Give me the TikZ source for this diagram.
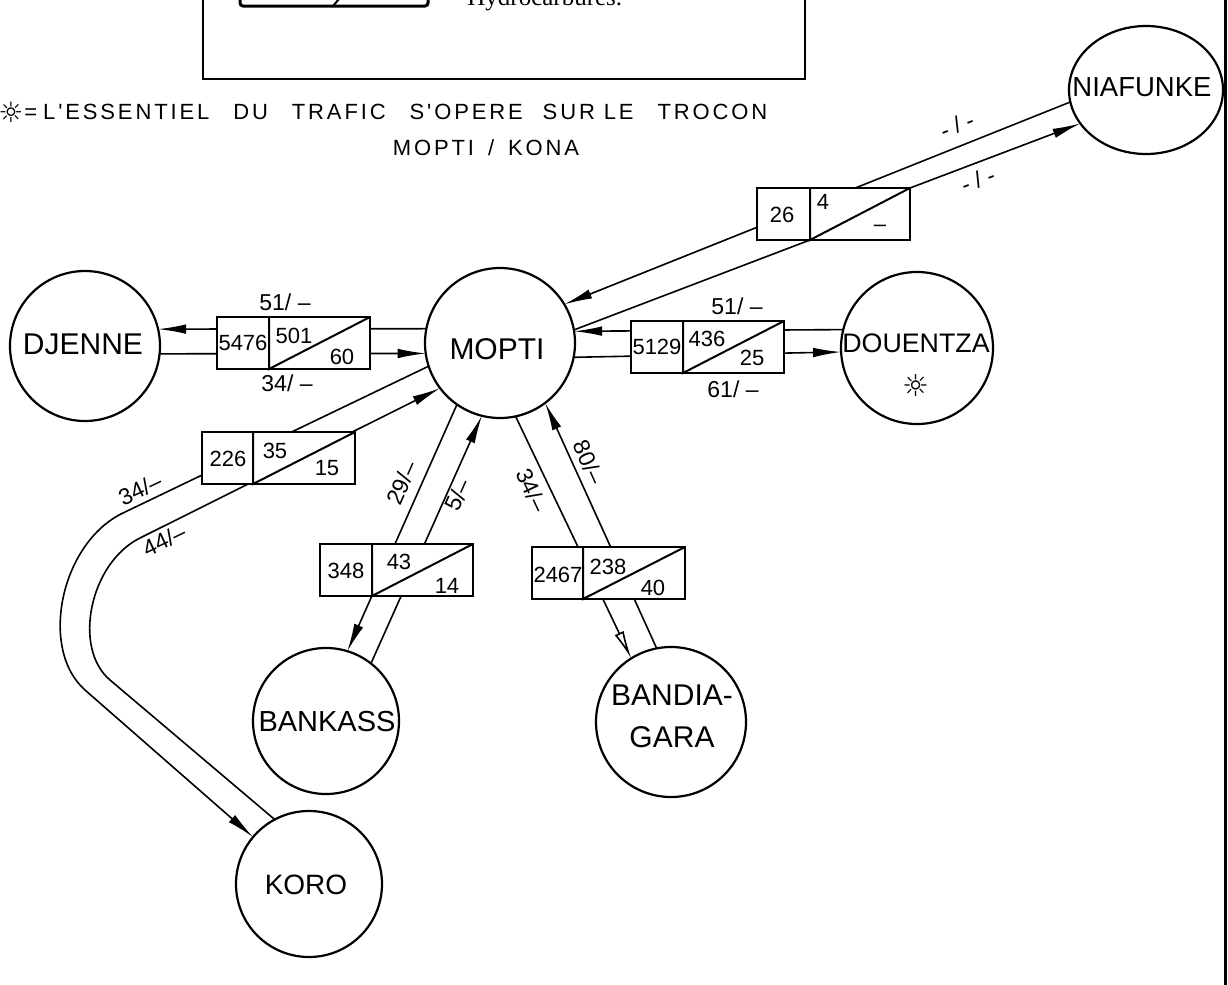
\documentclass[tikz,border=0pt]{standalone}
\usepackage{fontspec}
\setmainfont{Liberation Sans}
\newfontfamily\spacedfont[LetterSpace=13]{Liberation Sans}
\newfontfamily\symfont{DejaVu Sans}
\newfontfamily\seriffont{Liberation Serif}
\usetikzlibrary{arrows.meta,shapes.geometric,calc}
\newcommand\fsz[1]{\fontsize{#1}{#1}\selectfont}
\begin{document}
\begin{tikzpicture}[x=0.5pt,y=-0.5pt,
  town/.style={circle,draw,line width=1.1pt,minimum size=#1,inner sep=0pt,outer sep=0pt},
  tlab/.style={inner sep=0pt,font=\fsz{15}},
  conn/.style={line width=0.8pt},
  arr/.style={-{Latex[length=14pt,width=4.8pt]}},
  openarr/.style={-{Latex[open,length=14pt,width=5pt]}},
  tbox/.style={rectangle,draw,fill=white,line width=1pt,minimum width=76.5pt,minimum height=26pt,inner sep=0pt,outer sep=0pt,anchor=north west},
  boxline/.style={line width=1pt},
  num/.style={inner sep=0pt,font=\fsz{11}},
  elab/.style={inner sep=0pt,font=\fsz{11.5}},
  frame/.style={line width=1pt}]
\useasboundingbox (0,0) rectangle (1228,985);

% legend frame (cut at top)
\draw[frame] (203,-20) -- (203,79) -- (805,79) -- (805,-20);
\draw[line width=1.5pt,rounded corners=1.5pt] (240,-20) -- (240,6) -- (428,6) -- (428,-20);
\draw[line width=1pt] (333,6) -- (339,-1);
\node[anchor=base west,inner sep=0pt,font=\seriffont\fsz{12.5}] (hyd) at (467,5) {Hydrocarbures.};

% right border
\draw[line width=1.5pt] (1225,-5) -- (1225,990);

% note
\node[inner sep=0pt,font=\symfont\fsz{14}] (star1) at (11,112) {☼};
\node[anchor=west,inner sep=0pt,font=\spacedfont\fsz{11}] (note1) at (24,112) {=\hspace{3pt}L'ESSENTIEL\hspace{12pt}DU\hspace{12pt}TRAFIC\hspace{12pt}S'OPERE\hspace{10pt}SUR\hspace{4.5pt}LE\hspace{12pt}TROCON};
\node[inner sep=0pt,font=\spacedfont\fsz{11}] (note2) at (486,148) {MOPTI\hspace{7pt}/\hspace{7pt}KONA};

% towns
\node[town=75pt] (mopti) at (500,343) {};
\node[town=75pt] (djenne) at (85,346) {};
\node[town=76pt] (douentza) at (917,348) {};
\node[ellipse,draw,line width=1.1pt,minimum width=77pt,minimum height=64pt,inner sep=0pt,outer sep=0pt] (niafunke) at (1146,90) {};
\node[town=73pt] (bankass) at (326,721) {};
\node[town=75pt] (bandiagara) at (671,722) {};
\node[town=73pt] (koro) at (309,884) {};

\node[tlab] (moptil) at (497,349) {MOPTI};
\node[tlab] (djennel) at (83,344) {DJENNE};
\node[tlab,font=\fsz{13.4}] (douentzal) at (916,343) {DOUENTZA};
\node[inner sep=0pt,font=\symfont\fsz{15}] (star2) at (916,386) {☼};
\node[tlab,font=\fsz{13.75}] (niafunkel) at (1142,87) {NIAFUNKE};
\node[tlab,font=\fsz{14.5}] (bankassl) at (327,722) {BANKASS};
\node[inner sep=0pt,align=center,font=\fontsize{15}{21}\selectfont] (bandiagaral) at (672,716) {BANDIA-\\GARA};
\node[tlab,font=\fsz{14}] (korol) at (306,885) {KORO};

% connectors
\draw[conn,arr] (niafunke.189.5) -- (mopti.31.6);
\draw[conn,arr] (mopti.169.24) -- (djenne.13.1);
\draw[conn,arr] (djenne.-6.12) -- (mopti.188.43);
\draw[conn,arr] (douentza.166.3) -- (mopti.9.98);
\draw[conn,arr] (mopti.349.24) -- (douentza.183.0);
\coordinate (ko1) at (123,513);
\coordinate (ko2) at (85,690);
\draw[conn,arr] (mopti.198.8) -- (ko1) .. controls (60.8,542.7) and (38.5,648.9) .. (ko2) -- (koro.140);
\coordinate (ki1) at (140,538);
\coordinate (ki2) at (110,680);
\draw[conn,arr] (koro.118) -- (ki2) .. controls (72.1,647.9) and (90.1,562.7) .. (ki1) -- (mopti.217.8);
\draw[conn,arr] (mopti.235.3) -- (bankass.73.4);
\draw[conn,arr] (bankass.52.4) -- (mopti.256);
\draw[conn,openarr] (mopti.282.8) -- (bandiagara.122.4);
\draw[conn,arr] (bandiagara.101.3) -- (mopti.307.2);

% boxes
\node[tbox] (b26) at (757,188) {};
\node[tbox] (b5476) at (217,317) {};
\node[tbox] (b5129) at (631,321) {};
\node[tbox] (b226) at (202,432) {};
\node[tbox] (b348) at (320,544) {};
\node[tbox] (b2467) at (532,547) {};

\coordinate (b26d) at ($(b26.south west)+(53,0)$);
\draw[boxline] ($(b26.north west)+(53,0)$) -- (b26d) -- (b26.north east);
\draw[conn,arr] (b26.north east) -- (niafunke.207.65);
\draw[conn] (b26d) -- (mopti.10);
\draw[boxline] ($(b5476.north west)+(52,0)$) -- ($(b5476.south west)+(52,0)$) -- (b5476.north east);
\draw[boxline] ($(b5129.north west)+(52,0)$) -- ($(b5129.south west)+(52,0)$) -- (b5129.north east);
\draw[boxline] ($(b226.north west)+(51,0)$) -- ($(b226.south west)+(51,0)$) -- (b226.north east);
\draw[boxline] ($(b348.north west)+(52,0)$) -- ($(b348.south west)+(52,0)$) -- (b348.north east);
\draw[boxline] ($(b2467.north west)+(51,0)$) -- ($(b2467.south west)+(51,0)$) -- (b2467.north east);

% box numbers
\node[num] (n26a) at (782,215) {26};
\node[num] (n26b) at (823,202) {4};
\node[num] (n26c) at (880,228) {–};
\node[num] (n5476a) at (243,343) {5476};
\node[num] (n5476b) at (294,336) {501};
\node[num] (n5476c) at (342,357) {60};
\node[num] (n5129a) at (657,347) {5129};
\node[num] (n5129b) at (707,339) {436};
\node[num] (n5129c) at (752,358) {25};
\node[num] (n226a) at (228,459) {226};
\node[num] (n226b) at (275,451) {35};
\node[num] (n226c) at (327,468) {15};
\node[num] (n348a) at (346,571) {348};
\node[num] (n348b) at (399,562) {43};
\node[num] (n348c) at (447,586) {14};
\node[num] (n2467a) at (558,575) {2467};
\node[num] (n2467b) at (608,567) {238};
\node[num] (n2467c) at (653,588) {40};

% edge labels
\node[elab] (l1) at (285,302) {51/ –};
\node[elab] (l2) at (287,383) {34/ –};
\node[elab] (l3) at (737,306) {51/ –};
\node[elab] (l4) at (733,389) {61/ –};
\node[elab,rotate=21.7] (l5) at (957,125) {- / -};
\node[elab,rotate=21] (l6) at (978,180) {- / -};
\node[elab,rotate=25.4] (l7) at (140,489) {34/–};
\node[elab,rotate=25.4] (l8) at (164,540) {44/–};
\node[elab,rotate=65.9] (l9) at (402,483) {29/–};
\node[elab,rotate=65.9] (l10) at (458,495) {5/–};
\node[elab,rotate=-65.1] (l11) at (532,490) {34/–};
\node[elab,rotate=-66] (l12) at (589,462) {80/–};
\end{tikzpicture}
\end{document}
